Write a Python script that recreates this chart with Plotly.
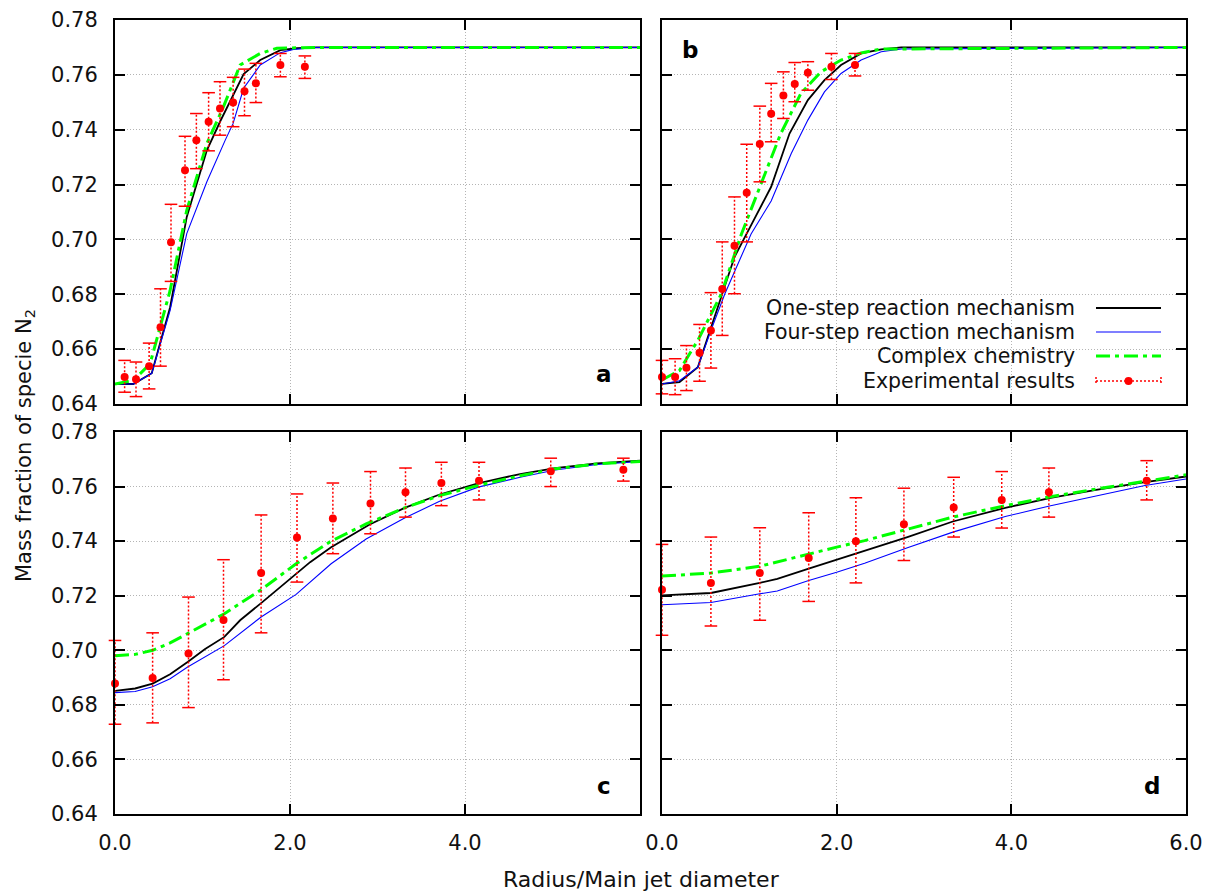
import plotly.graph_objects as go

# ---------------- data ----------------
# Panel a
a_one_x = [0.0, 0.21, 0.42, 0.63, 0.82, 1.05, 1.20, 1.35, 1.47, 1.66, 1.89, 2.08, 2.30, 6.0]
a_one_y = [0.6473, 0.6473, 0.6512, 0.6753, 0.7082, 0.7325, 0.7429, 0.7526, 0.7603, 0.7654, 0.7690, 0.7697, 0.7700, 0.7700]
a_four_x = [0.0, 0.21, 0.42, 0.63, 0.82, 1.05, 1.26, 1.35, 1.47, 1.66, 1.89, 2.04, 2.30, 6.0]
a_four_y = [0.6473, 0.6473, 0.6512, 0.6741, 0.7021, 0.7210, 0.7362, 0.7423, 0.7551, 0.7636, 0.7681, 0.7693, 0.7700, 0.7700]
a_cplx_x = [0.0, 0.21, 0.40, 0.63, 0.82, 1.05, 1.24, 1.43, 1.66, 1.85, 2.30, 6.0]
a_cplx_y = [0.6473, 0.6486, 0.6546, 0.6814, 0.7106, 0.7350, 0.7484, 0.7636, 0.7678, 0.7697, 0.7700, 0.7700]
a_exp_x = [0.11, 0.24, 0.39, 0.52, 0.64, 0.80, 0.93, 1.07, 1.20, 1.35, 1.48, 1.61, 1.89, 2.17]
a_exp_y = [0.6498, 0.6490, 0.6538, 0.6680, 0.6990, 0.7252, 0.7362, 0.7429, 0.7477, 0.7499, 0.7540, 0.7569, 0.7636, 0.7630]
a_exp_hi = [0.6559, 0.6553, 0.6622, 0.6820, 0.7128, 0.7376, 0.7459, 0.7535, 0.7575, 0.7591, 0.7621, 0.7642, 0.7678, 0.7669]
a_exp_lo = [0.6443, 0.6427, 0.6455, 0.6538, 0.6847, 0.7121, 0.7258, 0.7323, 0.7380, 0.7411, 0.7451, 0.7499, 0.7593, 0.7587]

# Panel b
b_one_x = [0.0, 0.20, 0.41, 0.68, 0.83, 1.04, 1.25, 1.46, 1.67, 1.86, 2.05, 2.28, 2.51, 2.74, 6.0]
b_one_y = [0.6473, 0.6480, 0.6534, 0.6790, 0.6936, 0.7064, 0.7192, 0.7386, 0.7508, 0.7581, 0.7636, 0.7678, 0.7693, 0.7700, 0.7700]
b_four_x = [0.0, 0.20, 0.41, 0.56, 0.72, 1.02, 1.25, 1.48, 1.67, 1.86, 2.05, 2.28, 2.51, 2.74, 6.0]
b_four_y = [0.6473, 0.6485, 0.6534, 0.6668, 0.6802, 0.7020, 0.7140, 0.7313, 0.7435, 0.7538, 0.7605, 0.7654, 0.7684, 0.7694, 0.7700]
b_cplx_x = [0.0, 0.20, 0.41, 0.68, 0.91, 1.14, 1.36, 1.59, 1.82, 2.05, 2.28, 2.51, 6.0]
b_cplx_y = [0.6488, 0.6522, 0.6632, 0.6802, 0.7020, 0.7204, 0.7386, 0.7532, 0.7611, 0.7654, 0.7680, 0.7694, 0.7700]
b_exp_x = [0.0, 0.15, 0.28, 0.43, 0.56, 0.69, 0.83, 0.97, 1.12, 1.25, 1.39, 1.52, 1.67, 1.94, 2.21]
b_exp_y = [0.6498, 0.6498, 0.6532, 0.6587, 0.6668, 0.6819, 0.6977, 0.7170, 0.7348, 0.7458, 0.7525, 0.7567, 0.7608, 0.7630, 0.7636]
b_exp_hi = [0.6559, 0.6565, 0.6613, 0.6690, 0.6806, 0.6991, 0.7155, 0.7347, 0.7486, 0.7569, 0.7611, 0.7645, 0.7648, 0.7678, 0.7678]
b_exp_lo = [0.6437, 0.6434, 0.6449, 0.6483, 0.6531, 0.6650, 0.6802, 0.6991, 0.7210, 0.7356, 0.7441, 0.7502, 0.7544, 0.7583, 0.7596]

# Panel c
c_one_x = [0.0, 0.23, 0.43, 0.63, 0.83, 1.03, 1.25, 1.43, 1.67, 1.99, 2.23, 2.47, 2.91, 3.31, 3.71, 4.15, 4.63, 5.03, 5.51, 6.0]
c_one_y = [0.6851, 0.6860, 0.6878, 0.6912, 0.6957, 0.7005, 0.7049, 0.7110, 0.7173, 0.7258, 0.7323, 0.7378, 0.7461, 0.7522, 0.7571, 0.7612, 0.7646, 0.7668, 0.7685, 0.7695]
c_four_x = [0.0, 0.23, 0.43, 0.63, 0.83, 1.25, 1.67, 2.07, 2.47, 2.87, 3.31, 3.71, 4.15, 4.63, 5.03, 5.51, 6.0]
c_four_y = [0.6845, 0.6849, 0.6866, 0.6896, 0.6939, 0.7017, 0.7122, 0.7205, 0.7317, 0.7408, 0.7485, 0.7546, 0.7598, 0.7634, 0.7661, 0.7681, 0.7692]
c_cplx_x = [0.0, 0.23, 0.43, 0.63, 0.83, 1.03, 1.25, 1.67, 2.07, 2.47, 2.87, 3.31, 3.71, 4.15, 4.63, 5.03, 5.51, 6.0]
c_cplx_y = [0.6980, 0.6985, 0.7000, 0.7027, 0.7061, 0.7097, 0.7134, 0.7222, 0.7317, 0.7400, 0.7463, 0.7522, 0.7567, 0.7604, 0.7640, 0.7665, 0.7683, 0.7692]
c_exp_x = [0.0, 0.43, 0.84, 1.24, 1.67, 2.08, 2.49, 2.92, 3.32, 3.73, 4.16, 4.98, 5.81]
c_exp_y = [0.6878, 0.6898, 0.6988, 0.7111, 0.7283, 0.7413, 0.7483, 0.7538, 0.7579, 0.7613, 0.7621, 0.7656, 0.7662]
c_exp_hi = [0.7036, 0.7064, 0.7195, 0.7332, 0.7496, 0.7573, 0.7613, 0.7655, 0.7668, 0.7689, 0.7689, 0.7704, 0.7704]
c_exp_lo = [0.6729, 0.6734, 0.6790, 0.6892, 0.7064, 0.7250, 0.7354, 0.7427, 0.7488, 0.7530, 0.7551, 0.7600, 0.7620]

# Panel d
d_one_x = [0.0, 0.56, 1.12, 1.32, 1.68, 2.00, 2.32, 2.81, 3.33, 3.93, 4.45, 4.97, 5.53, 6.0]
d_one_y = [0.7201, 0.7210, 0.7247, 0.7262, 0.7299, 0.7332, 0.7363, 0.7415, 0.7472, 0.7522, 0.7559, 0.7588, 0.7616, 0.7637]
d_four_x = [0.0, 0.56, 1.12, 1.32, 1.68, 2.00, 2.32, 2.81, 3.33, 3.93, 4.45, 4.97, 5.53, 6.0]
d_four_y = [0.7167, 0.7175, 0.7207, 0.7217, 0.7256, 0.7286, 0.7319, 0.7376, 0.7433, 0.7490, 0.7530, 0.7567, 0.7604, 0.7628]
d_cplx_x = [0.0, 0.56, 1.12, 1.68, 2.00, 2.32, 2.81, 3.33, 3.93, 4.45, 4.97, 5.53, 6.0]
d_cplx_y = [0.7272, 0.7283, 0.7308, 0.7354, 0.7378, 0.7402, 0.7445, 0.7488, 0.7530, 0.7563, 0.7591, 0.7620, 0.7643]
d_exp_x = [0.0, 0.56, 1.12, 1.68, 2.22, 2.77, 3.34, 3.89, 4.43, 5.55]
d_exp_y = [0.7222, 0.7247, 0.7283, 0.7338, 0.7400, 0.7462, 0.7523, 0.7551, 0.7579, 0.7621]
d_exp_hi = [0.7388, 0.7415, 0.7449, 0.7504, 0.7559, 0.7594, 0.7634, 0.7655, 0.7668, 0.7695]
d_exp_lo = [0.7055, 0.7089, 0.7110, 0.7179, 0.7247, 0.7329, 0.7415, 0.7448, 0.7488, 0.7551]

x_tickvals_full = [0, 2, 4, 6]
x_tickvals_c = [0, 2, 4]
x_ticktext_c = ["0.0", "2.0", "4.0"]
x_ticktext_d = ["0.0", "2.0", "4.0", "6.0"]
y_tickvals = [0.64, 0.66, 0.68, 0.70, 0.72, 0.74, 0.76, 0.78]

series_names = ["One-step reaction mechanism", "Four-step reaction mechanism",
                "Complex chemistry", "Experimental results"]
panel_letters = ["a", "b", "c", "d"]

# ---------------- styling ----------------
OFF = 8                      # page body margin of the browser
W, H = 1210 - OFF, 892 - OFF
FONT = "DejaVu Sans"
TXT = "#111111"
BLACK = "#000000"
BLUE = "#0000ff"
GREEN = "#00ff00"
RED = "#ff0000"
GRID = "#b4b4b4"
GREEN_DASH = "14px,5px,4px,5px"
RED_DOT = "2px,2px"
FS = 21
FS_TITLE = 22


def PX(x):
    return (x - OFF) / W


def PY(y):
    return 1 - (y - OFF) / H


fig = go.Figure()

panels = [
    ("x", "y", a_one_x, a_one_y, a_four_x, a_four_y, a_cplx_x, a_cplx_y, a_exp_x, a_exp_y, a_exp_hi, a_exp_lo),
    ("x2", "y2", b_one_x, b_one_y, b_four_x, b_four_y, b_cplx_x, b_cplx_y, b_exp_x, b_exp_y, b_exp_hi, b_exp_lo),
    ("x3", "y3", c_one_x, c_one_y, c_four_x, c_four_y, c_cplx_x, c_cplx_y, c_exp_x, c_exp_y, c_exp_hi, c_exp_lo),
    ("x4", "y4", d_one_x, d_one_y, d_four_x, d_four_y, d_cplx_x, d_cplx_y, d_exp_x, d_exp_y, d_exp_hi, d_exp_lo),
]

for (xa, ya, ox, oy, fx, fy, cx, cy, ex, ey, ehi, elo) in panels:
    fig.add_trace(go.Scatter(x=ox, y=oy, xaxis=xa, yaxis=ya, mode="lines",
                             line=dict(color=BLACK, width=1.8), name=series_names[0],
                             showlegend=False))
    fig.add_trace(go.Scatter(x=fx, y=fy, xaxis=xa, yaxis=ya, mode="lines",
                             line=dict(color=BLUE, width=1.1), name=series_names[1],
                             showlegend=False))
    fig.add_trace(go.Scatter(x=cx, y=cy, xaxis=xa, yaxis=ya, mode="lines",
                             line=dict(color=GREEN, width=3, dash=GREEN_DASH),
                             name=series_names[2], showlegend=False))
    # error bars: dotted vertical segments
    seg_x, seg_y = [], []
    for xi, hi, lo in zip(ex, ehi, elo):
        seg_x += [xi, xi, None]
        seg_y += [lo, hi, None]
    fig.add_trace(go.Scatter(x=seg_x, y=seg_y, xaxis=xa, yaxis=ya, mode="lines",
                             line=dict(color=RED, width=1.5, dash=RED_DOT),
                             cliponaxis=False, showlegend=False, hoverinfo="skip"))
    # caps
    fig.add_trace(go.Scatter(x=list(ex) + list(ex), y=list(ehi) + list(elo), xaxis=xa, yaxis=ya,
                             mode="markers",
                             marker=dict(symbol="line-ew-open", size=9, color=RED,
                                         line=dict(color=RED, width=1.5)),
                             cliponaxis=False, showlegend=False, hoverinfo="skip"))
    fig.add_trace(go.Scatter(x=ex, y=ey, xaxis=xa, yaxis=ya, mode="markers",
                             marker=dict(symbol="circle", size=8, color=RED),
                             name=series_names[3], cliponaxis=False, showlegend=False))

# ---------------- axes ----------------
common = dict(
    showline=True, linecolor=BLACK, linewidth=2, mirror="allticks",
    ticks="inside", ticklen=10, tickwidth=1.5, tickcolor=BLACK,
    showgrid=True, gridcolor=GRID, griddash="1px,2px", gridwidth=1,
    zeroline=False, tickfont=dict(family=FONT, size=FS, color=TXT),
    automargin=False,
)


def xaxis(dom, anchor, tickvals, ticktext):
    d = dict(common)
    d.update(domain=dom, anchor=anchor, range=[0, 6], tickmode="array",
             tickvals=tickvals, showticklabels=ticktext is not None,
             ticklabelstandoff=9)
    if ticktext is not None:
        d["ticktext"] = ticktext
    return d


def yaxis(dom, anchor, show):
    d = dict(common)
    d.update(domain=dom, anchor=anchor, range=[0.64, 0.78], tickmode="array",
             tickvals=y_tickvals, tickformat=".2f", showticklabels=show,
             ticklabelstandoff=11)
    return d


XL = [PX(115), PX(640)]
XR = [PX(662), PX(1186)]
YT = [PY(404), PY(20)]
YB = [PY(814), PY(432)]

fig.update_layout(
    xaxis=xaxis(XL, "y", x_tickvals_full, None),
    yaxis=yaxis(YT, "x", True),
    xaxis2=xaxis(XR, "y2", x_tickvals_full, None),
    yaxis2=yaxis(YT, "x2", False),
    xaxis3=xaxis(XL, "y3", x_tickvals_c, x_ticktext_c),
    yaxis3=yaxis(YB, "x3", True),
    xaxis4=xaxis(XR, "y4", x_tickvals_full, x_ticktext_d),
    yaxis4=yaxis(YB, "x4", False),
)

# ---------------- annotations ----------------
annotations = []
letter_pos = [("x domain", "y domain", 0.931, 0.078),
              ("x2 domain", "y2 domain", 0.053, 0.922),
              ("x3 domain", "y3 domain", 0.931, 0.073),
              ("x4 domain", "y4 domain", 0.935, 0.073)]
for letter, (xr, yr, xv, yv) in zip(panel_letters, letter_pos):
    annotations.append(dict(text="<b>%s</b>" % letter, xref=xr, yref=yr, x=xv, y=yv,
                            showarrow=False, xanchor="center", yanchor="middle",
                            font=dict(family=FONT, size=23, color=BLACK)))

annotations.append(dict(text="Mass fraction of specie N<sub>2</sub>", xref="paper", yref="paper",
                        x=PX(25), y=PY(446), textangle=-90, showarrow=False,
                        xanchor="center", yanchor="middle",
                        font=dict(family=FONT, size=FS, color=TXT)))
annotations.append(dict(text="Radius/Main jet diameter", xref="paper", yref="paper",
                        x=PX(641), y=PY(879), showarrow=False,
                        xanchor="center", yanchor="middle",
                        font=dict(family=FONT, size=FS_TITLE, color=TXT)))

# manual gnuplot-style key inside panel b
key_rows = [308, 332, 356, 381]
key_text_right = 1077
key_x0, key_x1 = 1096, 1161
for name, ry in zip(series_names, key_rows):
    annotations.append(dict(text=name, xref="paper", yref="paper",
                            x=PX(key_text_right), y=PY(ry), showarrow=False,
                            xanchor="right", yanchor="middle",
                            font=dict(family=FONT, size=20.5, color=TXT)))

shapes = []
key_styles = [dict(color=BLACK, width=1.8), dict(color=BLUE, width=1.1),
              dict(color=GREEN, width=3, dash=GREEN_DASH)]
for st, ry in zip(key_styles, key_rows[:3]):
    shapes.append(dict(type="line", xref="paper", yref="paper",
                       x0=PX(key_x0), x1=PX(key_x1), y0=PY(ry), y1=PY(ry), line=st))
ry = key_rows[3]
shapes.append(dict(type="line", xref="paper", yref="paper", x0=PX(key_x0), x1=PX(key_x1),
                   y0=PY(ry), y1=PY(ry), line=dict(color=RED, width=1.5, dash=RED_DOT)))
for kx in (key_x0, key_x1):
    shapes.append(dict(type="line", xref="paper", yref="paper", x0=PX(kx), x1=PX(kx),
                       y0=PY(ry - 4), y1=PY(ry + 4),
                       line=dict(color=RED, width=1.5, dash=RED_DOT)))
cx_mid = (key_x0 + key_x1) / 2
shapes.append(dict(type="circle", xref="paper", yref="paper",
                   x0=PX(cx_mid - 4), x1=PX(cx_mid + 4),
                   y0=PY(ry + 4), y1=PY(ry - 4),
                   fillcolor=RED, line=dict(color=RED, width=0)))

fig.update_layout(
    width=W, height=H,
    margin=dict(l=0, r=0, t=0, b=0),
    paper_bgcolor="white", plot_bgcolor="white",
    showlegend=False,
    annotations=annotations,
    shapes=shapes,
    font=dict(family=FONT, size=FS, color=TXT),
)

fig.write_html("out.html")
